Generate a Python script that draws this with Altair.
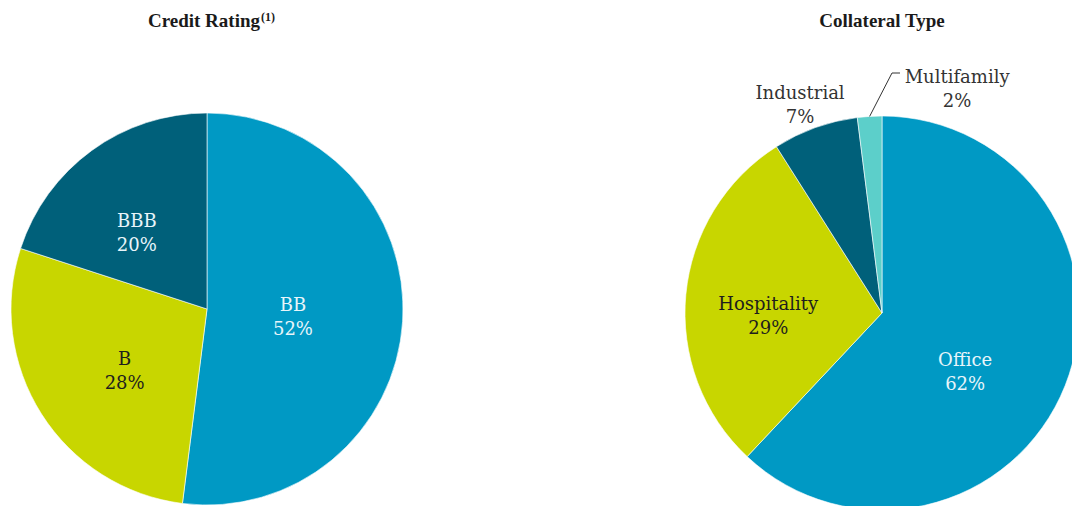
import altair as alt
import pandas as pd

# ---- data ----
rating_names = ["BB", "B", "BBB"]
rating_values = [52, 28, 20]
collateral_names = ["Office", "Hospitality", "Industrial", "Multifamily"]
collateral_values = [62, 29, 7, 2]

# ---- styling / layout ----
all_names = ["BB", "B", "BBB", "Office", "Hospitality", "Industrial", "Multifamily"]
all_colors = ["#0099c4", "#c8d600", "#00607a", "#0099c4", "#c8d600", "#00607a", "#5ccfca"]
rating_text_colors = ["#e8f5fa", "#1e1e1e", "#e8f5fa"]
collateral_text_colors = ["#e8f5fa", "#1e1e1e", "#333333", "#333333"]
rating_label_r = [86, 97, 112]
rating_label_shift = [-5.6, 0.5, -2.8]
collateral_label_r = [96, 114, 234, 247]
collateral_label_shift = [8.4, -1.4, -0.7, 21.3]

LABEL_FONT = "DejaVu Serif"
TITLE_FONT = "Liberation Serif"


def pie(names, values, label_r, label_shift, text_colors, cx, cy, r):
    df = pd.DataFrame({
        "name": names,
        "value": values,
        "idx": list(range(len(names))),
        "lr": label_r,
        "ls": label_shift,
    })
    base = alt.Chart(df)
    arc = base.mark_arc(outerRadius=r, stroke="#ffffff", strokeWidth=0.6).encode(
        x=alt.value(cx),
        y=alt.value(cy),
        theta=alt.Theta("value:Q", stack=True),
        order=alt.Order("idx:Q"),
        color=alt.Color("name:N", scale=alt.Scale(domain=all_names, range=all_colors), legend=None),
    )
    placed = base.transform_window(
        cum="sum(value)", sort=[alt.SortField("idx")]
    ).transform_joinaggregate(
        total="sum(value)"
    ).transform_calculate(
        mid="(datum.cum - datum.value/2)/datum.total*2*PI",
        lmid="datum.mid + datum.ls*PI/180",
        lx=f"{cx} + datum.lr*sin(datum.lmid)",
        ly=f"{cy} - datum.lr*cos(datum.lmid)",
        sx=f"{cx} + {r}*sin(datum.mid)",
        sy=f"{cy} - {r}*cos(datum.mid)",
        label="datum.name + '\\n' + datum.value + '%'",
    )
    text = placed.mark_text(
        font=LABEL_FONT, fontSize=18, lineBreak="\n", lineHeight=24,
        align="center", baseline="middle",
    ).encode(
        x=alt.X("lx:Q", scale=None),
        y=alt.Y("ly:Q", scale=None),
        text="label:N",
        color=alt.Color("name:N", scale=alt.Scale(domain=names, range=text_colors), legend=None),
    )
    return arc, text, placed


l_arc, l_text, _ = pie(rating_names, rating_values, rating_label_r, rating_label_shift,
                       rating_text_colors, 207, 309, 196)
r_arc, r_text, r_placed = pie(collateral_names, collateral_values, collateral_label_r,
                              collateral_label_shift, collateral_text_colors, 882, 313, 197)

mf = r_placed.transform_filter("datum.name == 'Multifamily'")
leader1 = mf.mark_rule(color="#333333", strokeWidth=1).encode(
    x=alt.X("sx:Q", scale=None), y=alt.Y("sy:Q", scale=None),
    x2=alt.value(892), y2=alt.value(73),
)
leader2 = mf.mark_rule(color="#333333", strokeWidth=1).encode(
    x=alt.value(892), x2=alt.value(900), y=alt.value(73),
)

title_df = pd.DataFrame({"t": ["Credit Rating"], "s": ["(1)"], "c": ["Collateral Type"]})
tb = alt.Chart(title_df)
t1 = tb.mark_text(font=TITLE_FONT, fontSize=19, fontWeight="bold",
                  align="right", baseline="alphabetic", color="#1a1a1a").encode(
    x=alt.value(260), y=alt.value(27), text="t:N")
t1s = tb.mark_text(font=TITLE_FONT, fontSize=12, fontWeight="bold",
                   align="left", baseline="alphabetic", color="#1a1a1a").encode(
    x=alt.value(261), y=alt.value(21), text="s:N")
t2 = tb.mark_text(font=TITLE_FONT, fontSize=19, fontWeight="bold",
                  align="center", baseline="alphabetic", color="#1a1a1a").encode(
    x=alt.value(882), y=alt.value(27), text="c:N")

chart = alt.layer(
    l_arc, r_arc, l_text, r_text, leader1, leader2, t1, t1s, t2
).resolve_scale(
    color="independent", theta="independent"
).properties(
    width=1072, height=506, padding=0, autosize=alt.AutoSizeParams(type="none"),
    background="#ffffff",
).configure_view(stroke=None)

chart.save("out.html", embed_options={"renderer": "svg", "actions": False})
